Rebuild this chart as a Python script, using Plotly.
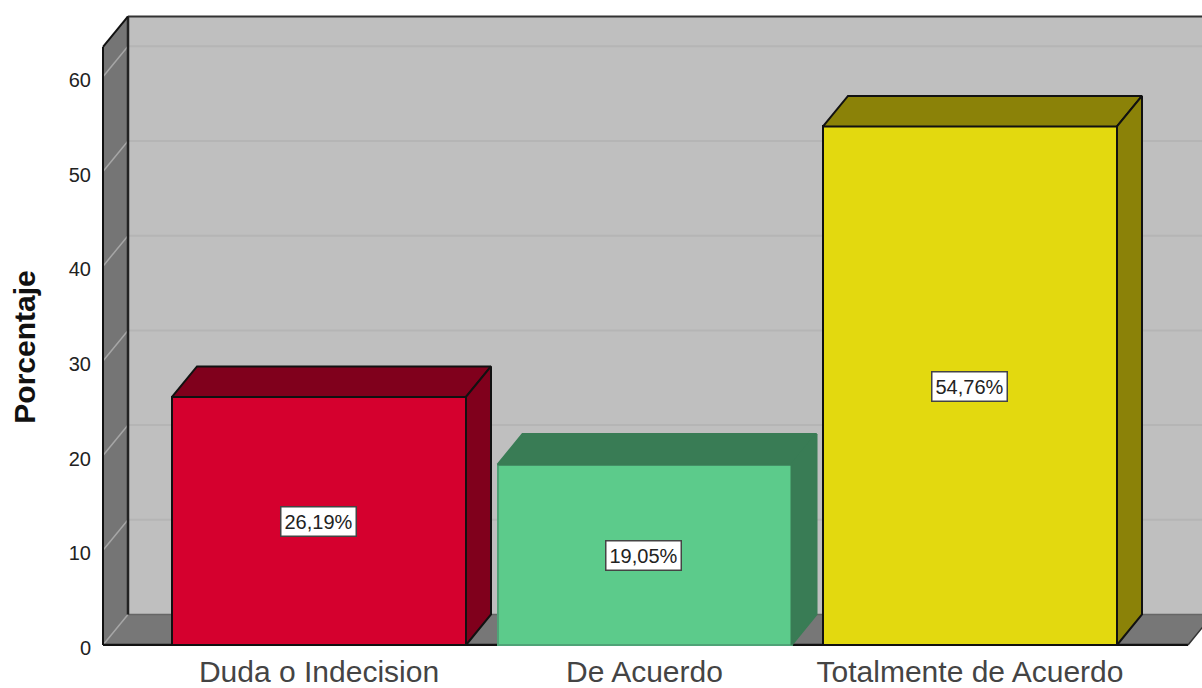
import plotly.graph_objects as go

categories = ["Duda o Indecision", "De Acuerdo", "Totalmente de Acuerdo"]
values = [26.19, 19.05, 54.76]
labels = ["26,19%", "19,05%", "54,76%"]
y_ticks = [0, 10, 20, 30, 40, 50, 60]
grid_values = [10, 20, 30, 40, 50, 60]

front_colors = ["#D5002E", "#5CCB8B", "#E3D90F"]
side_colors = ["#80001C", "#397C55", "#8B8208"]
edge_colors = ["#111111", "#4FA377", "#111111"]

W, H = 1202, 688
L, B = 98, 42            # plot-area margins (px)
PX_X, PX_Y = 325.5, 9.47 # px per category step, px per percentage point
X0_PX = 319              # px of the first category centre
Y0_PX = 645              # px of value 0

x_lo = (L - X0_PX) / PX_X
x_hi = (W - X0_PX) / PX_X
y_lo = (Y0_PX - (H - B)) / PX_Y
y_hi = Y0_PX / PX_Y

dx, dy = 25 / PX_X, 30.5 / PX_Y   # depth of the 3-D box
wall_left = (103 - X0_PX) / PX_X
floor_right = (1188 - X0_PX) / PX_X
wall_top = 63.15
bar_w = 294 / PX_X

shapes = []


def poly(xs, ys, fill=None, line=None, lw=0):
    path = "M" + " L".join(f"{a},{b}" for a, b in zip(xs, ys)) + " Z"
    shapes.append(dict(type="path", path=path, xref="x", yref="y", layer="below",
                       fillcolor=fill or "rgba(0,0,0,0)",
                       line=dict(color=line or "rgba(0,0,0,0)", width=lw)))


def seg(x0, y0, x1, y1, color, lw):
    shapes.append(dict(type="line", x0=x0, y0=y0, x1=x1, y1=y1, xref="x", yref="y",
                       layer="below", line=dict(color=color, width=lw)))


# back wall
poly([wall_left + dx, x_hi + 1, x_hi + 1, wall_left + dx], [dy, dy, wall_top + dy, wall_top + dy], "#BFBFBF")
# side wall
poly([wall_left, wall_left + dx, wall_left + dx, wall_left], [0, dy, wall_top + dy, wall_top], "#757575")
# floor
poly([wall_left, floor_right, floor_right + dx, wall_left + dx], [0, 0, dy, dy], "#777777")

for g in grid_values:
    seg(wall_left + dx, g + dy, x_hi + 1, g + dy, "#B5B5B5", 2)
    seg(wall_left, g, wall_left + dx, g + dy, "#A6A6A6", 1.5)
seg(wall_left, 0, wall_left + dx, dy, "#A6A6A6", 1.5)

seg(wall_left + dx, dy, x_hi + 1, dy, "#666666", 1.5)
seg(wall_left + dx, dy, wall_left + dx, wall_top + dy, "#222222", 2.5)
seg(wall_left + dx, wall_top + dy, x_hi + 1, wall_top + dy, "#333333", 2)
seg(wall_left, 0, wall_left, wall_top, "#111111", 2)
seg(wall_left, wall_top, wall_left + dx, wall_top + dy, "#111111", 2)
seg(wall_left, 0, floor_right, 0, "#111111", 2.5)
seg(floor_right, 0, floor_right + dx, dy, "#333333", 1.5)

fig = go.Figure()

positions = list(range(len(categories)))

fig.add_trace(go.Bar(
    x=positions, y=values, width=bar_w,
    marker=dict(color=front_colors, line=dict(color=edge_colors, width=2)),
    showlegend=False, hoverinfo="skip",
))

for p, v, side, edge in zip(positions, values, side_colors, edge_colors):
    xl, xr = p - bar_w / 2, p + bar_w / 2
    # top face
    fig.add_trace(go.Scatter(
        x=[xl, xr, xr + dx, xl + dx, xl], y=[v, v, v + dy, v + dy, v],
        mode="lines", fill="toself", fillcolor=side,
        line=dict(color=edge if edge == "#111111" else side, width=2),
        showlegend=False, hoverinfo="skip"))
    # side face
    fig.add_trace(go.Scatter(
        x=[xr, xr + dx, xr + dx, xr, xr], y=[0, dy, v + dy, v, 0],
        mode="lines", fill="toself", fillcolor=side,
        line=dict(color=edge if edge == "#111111" else side, width=2),
        showlegend=False, hoverinfo="skip"))

annotations = [
    dict(x=p, y=v / 2, text=t, showarrow=False, xref="x", yref="y", xshift=-1, yshift=-1,
         font=dict(family="Liberation Sans", size=20, color="#222222"),
         bgcolor="white", bordercolor="#444444", borderwidth=1.5, borderpad=3)
    for p, v, t in zip(positions, values, labels)
]
annotations.append(dict(
    text="<b>Porcentaje</b>", textangle=-90, showarrow=False,
    xref="paper", yref="y", x=(25 - L) / (W - L), y=31.4, xanchor="center", yanchor="middle",
    font=dict(family="Liberation Sans", size=30, color="#111111")))

fig.update_layout(
    width=W, height=H,
    margin=dict(l=L, r=0, t=0, b=B, pad=0),
    paper_bgcolor="white", plot_bgcolor="white",
    bargap=0, shapes=shapes, annotations=annotations, showlegend=False,
    xaxis=dict(range=[x_lo, x_hi], tickmode="array", tickvals=positions, ticktext=categories,
               showgrid=False, zeroline=False, showline=False, ticks="", ticklabelstandoff=5,
               tickfont=dict(family="Liberation Sans", size=30, color="#444444")),
    yaxis=dict(range=[y_lo, y_hi], tickmode="array", tickvals=y_ticks,
               showgrid=False, zeroline=False, showline=False, ticks="", ticklabelstandoff=6,
               ticklabelshift=3,
               tickfont=dict(family="Liberation Sans", size=20, color="#222222")),
)

fig.write_html("out.html", config={"displayModeBar": False},
               post_script="document.body.style.margin='0';document.body.style.overflow='hidden';")
